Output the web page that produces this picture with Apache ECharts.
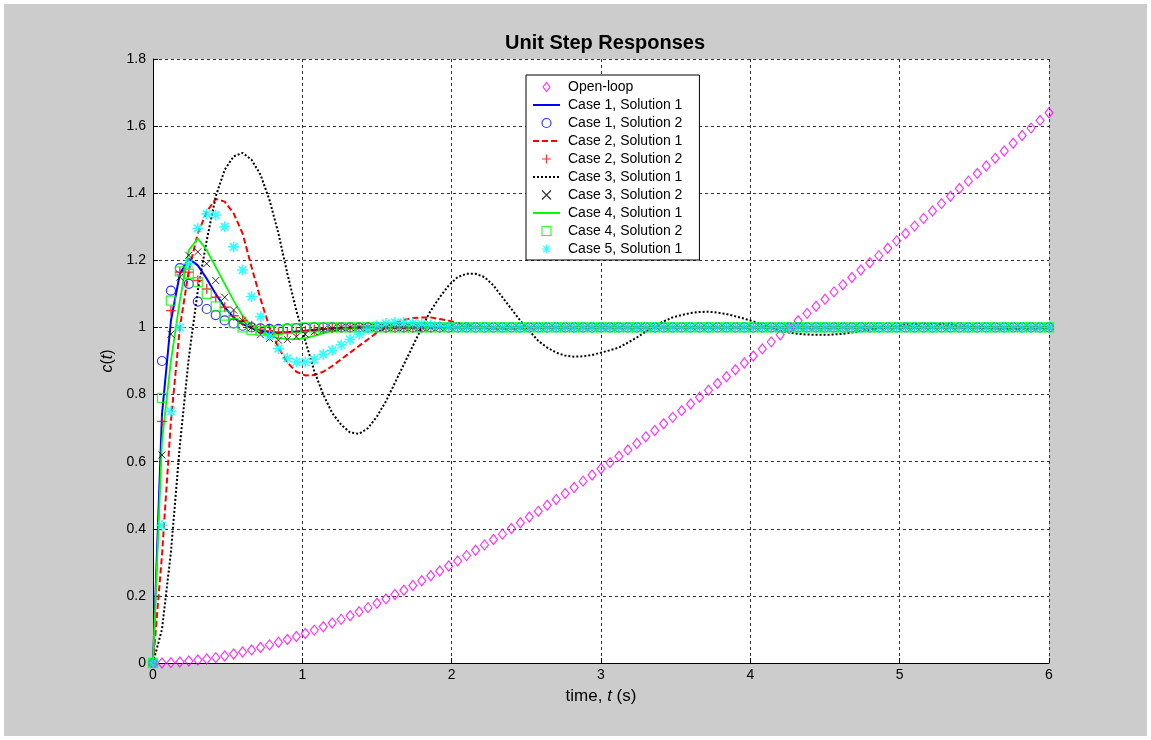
<!DOCTYPE html>
<html><head><meta charset="utf-8">
<script src="https://cdn.jsdelivr.net/npm/echarts@6/dist/echarts.min.js"></script>
<style>html,body{margin:0;padding:0;background:#ffffff;} #bg{position:absolute;left:4px;top:4px;width:1143px;height:732px;background:#cccccc;} #c{position:absolute;left:0;top:0;width:1151px;height:740px;}</style>
</head><body><div id="bg"></div><div id="c"></div>
<script>
const t = [0,0.06,0.12,0.18,0.24,0.3,0.36,0.42,0.48,0.54,
0.6,0.66,0.72,0.78,0.84,0.9,0.96,1.02,1.08,1.14,
1.2,1.26,1.32,1.38,1.44,1.5,1.56,1.62,1.68,1.74,
1.8,1.86,1.92,1.98,2.04,2.1,2.16,2.22,2.28,2.34,
2.4,2.46,2.52,2.58,2.64,2.7,2.76,2.82,2.88,2.94,
3,3.06,3.12,3.18,3.24,3.3,3.36,3.42,3.48,3.54,
3.6,3.66,3.72,3.78,3.84,3.9,3.96,4.02,4.08,4.14,
4.2,4.26,4.32,4.38,4.44,4.5,4.56,4.62,4.68,4.74,
4.8,4.86,4.92,4.98,5.04,5.1,5.16,5.22,5.28,5.34,
5.4,5.46,5.52,5.58,5.64,5.7,5.76,5.82,5.88,5.94,
6];
const openLoop = [0,0,0.001,0.003,0.006,0.009,0.012,0.016,0.021,0.027,
0.033,0.039,0.046,0.054,0.062,0.070,0.079,0.088,0.098,0.108,
0.119,0.130,0.141,0.153,0.165,0.178,0.191,0.204,0.217,0.231,
0.245,0.260,0.274,0.289,0.304,0.320,0.336,0.352,0.368,0.384,
0.401,0.418,0.435,0.452,0.470,0.487,0.505,0.523,0.542,0.560,
0.579,0.597,0.616,0.635,0.654,0.674,0.693,0.713,0.732,0.752,
0.772,0.792,0.813,0.833,0.853,0.874,0.894,0.915,0.936,0.957,
0.978,0.999,1.020,1.042,1.063,1.084,1.106,1.127,1.149,1.171,
1.193,1.214,1.236,1.258,1.280,1.302,1.325,1.347,1.369,1.391,
1.414,1.436,1.459,1.481,1.504,1.526,1.549,1.572,1.594,1.617,
1.640];
const case1Sol1 = [0,0.74,1.02,1.16,1.205,1.185,1.145,1.1,1.06,1.03,
1.01,0.998,0.99,0.986,0.985,0.986,0.988,0.99,0.993,0.995,
0.997,0.998,0.999,1,1,1,1,1,1,1,
1,1,1,1,1,1,1,1,1,1,
1,1,1,1,1,1,1,1,1,1,
1,1,1,1,1,1,1,1,1,1,
1,1,1,1,1,1,1,1,1,1,
1,1,1,1,1,1,1,1,1,1,
1,1,1,1,1,1,1,1,1,1,
1,1,1,1,1,1,1,1,1,1,
1];
const case1Sol2 = [0,0.9,1.11,1.177,1.13,1.077,1.055,1.037,1.021,1.012,
1.005,1,0.997,0.996,0.996,0.997,0.998,0.999,1,1,
1,1,1,1,1,1,1,1,1,1,
1,1,1,1,1,1,1,1,1,1,
1,1,1,1,1,1,1,1,1,1,
1,1,1,1,1,1,1,1,1,1,
1,1,1,1,1,1,1,1,1,1,
1,1,1,1,1,1,1,1,1,1,
1,1,1,1,1,1,1,1,1,1,
1,1,1,1,1,1,1,1,1,1,
1];
const case2Sol1 = [0,0.32,0.72,1.0,1.17,1.28,1.345,1.383,1.375,1.34,
1.28,1.18,1.085,1.0,0.94,0.895,0.868,0.857,0.858,0.868,
0.885,0.905,0.925,0.945,0.965,0.985,1.0,1.013,1.022,1.028,
1.03,1.03,1.025,1.02,1.013,1.007,1.002,0.998,0.996,0.995,
0.995,0.996,0.997,0.998,0.999,1,1,1,1,1,
1,1,1,1,1,1,1,1,1,1,
1,1,1,1,1,1,1,1,1,1,
1,1,1,1,1,1,1,1,1,1,
1,1,1,1,1,1,1,1,1,1,
1,1,1,1,1,1,1,1,1,1,
1];
const case2Sol2 = [0,0.72,1.05,1.165,1.165,1.14,1.115,1.09,1.06,1.035,
1.02,1.005,0.995,0.99,0.985,0.985,0.987,0.99,0.993,0.996,
0.998,1,1,1,1,1,1,1,1,1,
1,1,1,1,1,1,1,1,1,1,
1,1,1,1,1,1,1,1,1,1,
1,1,1,1,1,1,1,1,1,1,
1,1,1,1,1,1,1,1,1,1,
1,1,1,1,1,1,1,1,1,1,
1,1,1,1,1,1,1,1,1,1,
1,1,1,1,1,1,1,1,1,1,
1];
const case3Sol1 = [0,0.10,0.33,0.65,0.91,1.11,1.26,1.39,1.47,1.51,
1.52,1.50,1.455,1.38,1.28,1.16,1.05,0.96,0.87,0.80,
0.745,0.71,0.687,0.683,0.70,0.735,0.78,0.835,0.89,0.945,
1.0,1.05,1.09,1.125,1.15,1.16,1.16,1.15,1.125,1.09,
1.055,1.02,0.99,0.96,0.94,0.925,0.916,0.913,0.914,0.918,
0.925,0.932,0.94,0.955,0.97,0.988,1.005,1.018,1.03,1.037,
1.043,1.046,1.047,1.044,1.04,1.033,1.026,1.018,1.008,0.998,
0.99,0.985,0.981,0.979,0.978,0.978,0.979,0.981,0.985,0.989,
0.994,0.998,1.002,1.005,1.008,1.01,1.011,1.011,1.01,1.008,
1.006,1.003,1.0,0.998,0.996,0.995,0.995,0.995,0.996,0.997,
0.998];
const case3Sol2 = [0,0.62,0.98,1.15,1.215,1.225,1.19,1.14,1.09,1.052,
1.02,1.0,0.978,0.967,0.962,0.964,0.972,0.98,0.987,0.993,
0.997,1,1,1,1,1,1,1,1,1,
1,1,1,1,1,1,1,1,1,1,
1,1,1,1,1,1,1,1,1,1,
1,1,1,1,1,1,1,1,1,1,
1,1,1,1,1,1,1,1,1,1,
1,1,1,1,1,1,1,1,1,1,
1,1,1,1,1,1,1,1,1,1,
1,1,1,1,1,1,1,1,1,1,
1];
const case4Sol1 = [0,0.66,0.9,1.08,1.23,1.265,1.23,1.18,1.13,1.08,
1.035,1.005,0.985,0.975,0.968,0.965,0.965,0.968,0.975,0.983,
0.99,0.995,0.998,1,1,1,1,1,1,1,
1,1,1,1,1,1,1,1,1,1,
1,1,1,1,1,1,1,1,1,1,
1,1,1,1,1,1,1,1,1,1,
1,1,1,1,1,1,1,1,1,1,
1,1,1,1,1,1,1,1,1,1,
1,1,1,1,1,1,1,1,1,1,
1,1,1,1,1,1,1,1,1,1,
1];
const case4Sol2 = [0,0.79,1.08,1.167,1.16,1.135,1.1,1.063,1.035,1.013,
1.0,0.993,0.99,0.99,0.992,0.995,0.997,1,1,1,
1,1,1,1,1,1,1,1,1,1,
1,1,1,1,1,1,1,1,1,1,
1,1,1,1,1,1,1,1,1,1,
1,1,1,1,1,1,1,1,1,1,
1,1,1,1,1,1,1,1,1,1,
1,1,1,1,1,1,1,1,1,1,
1,1,1,1,1,1,1,1,1,1,
1,1,1,1,1,1,1,1,1,1,
1];
const case5Sol1 = [0,0.41,0.75,1.0,1.19,1.295,1.338,1.335,1.3,1.24,
1.171,1.092,1.032,0.975,0.937,0.908,0.897,0.897,0.905,0.92,
0.932,0.948,0.964,0.98,0.995,1.005,1.012,1.015,1.015,1.013,
1.01,1.007,1.004,1.002,1,1,1,1,1,1,
1,1,1,1,1,1,1,1,1,1,
1,1,1,1,1,1,1,1,1,1,
1,1,1,1,1,1,1,1,1,1,
1,1,1,1,1,1,1,1,1,1,
1,1,1,1,1,1,1,1,1,1,
1,1,1,1,1,1,1,1,1,1,
1];
const seriesNames = ['Open-loop','Case 1, Solution 1','Case 1, Solution 2','Case 2, Solution 1','Case 2, Solution 2',
  'Case 3, Solution 1','Case 3, Solution 2','Case 4, Solution 1','Case 4, Solution 2','Case 5, Solution 1'];
const xTicks = [0,1,2,3,4,5,6];
const yTicks = [0,0.2,0.4,0.6,0.8,1,1.2,1.4,1.6,1.8];

const FONT = '"Liberation Sans", Arial, Helvetica, sans-serif';
const pairs = v => t.map((x, i) => [x, v[i]]);
const SYM = {
  diamond: 'path://M5,0L10,6.5L5,13L0,6.5Z',
  plus: 'path://M5,0L5,10M0,5L10,5',
  cross: 'path://M0,0L10,10M10,0L0,10',
  square: 'path://M0,0L10,0L10,10L0,10Z',
  star: 'path://M5,0L5,10M0,5L10,5M1.5,1.5L8.5,8.5M8.5,1.5L1.5,8.5'
};
function markerSeries(name, vals, symbol, size, color, bw) {
  return { name, type: 'scatter', data: pairs(vals), symbol, symbolSize: size, clip: false,
    itemStyle: { color: 'rgba(0,0,0,0)', borderColor: color, borderWidth: bw || 1.2 }, z: 3 };
}
function lineSeries(name, vals, color, width, type) {
  return { name, type: 'line', data: pairs(vals), symbol: 'none', showSymbol: false, clip: false,
    color: color, lineStyle: { color, width, type }, z: 3 };
}
const series = [
  markerSeries(seriesNames[0], openLoop, SYM.diamond, [8, 10], '#ff00ff', 1.2),
  lineSeries(seriesNames[1], case1Sol1, '#0000ff', 2, 'solid'),
  markerSeries(seriesNames[2], case1Sol2, 'circle', 9, '#0000ff', 1.2),
  lineSeries(seriesNames[3], case2Sol1, '#ff0000', 2, [6, 3]),
  markerSeries(seriesNames[4], case2Sol2, SYM.plus, 10, '#ff0000', 1.4),
  lineSeries(seriesNames[5], case3Sol1, '#000000', 2, [2, 2]),
  markerSeries(seriesNames[6], case3Sol2, SYM.cross, 7, '#000000', 1),
  lineSeries(seriesNames[7], case4Sol1, '#00ff00', 1.8, 'solid'),
  markerSeries(seriesNames[8], case4Sol2, SYM.square, 9, '#00ff00', 1.3),
  markerSeries(seriesNames[9], case5Sol1, SYM.star, 11, '#00ffff', 1.6)
];
const legendData = series.map(s => s.type === 'line'
  ? { name: s.name, itemStyle: { opacity: 0 } }
  : { name: s.name, itemStyle: { color: 'rgba(0,0,0,0)', borderColor: s.itemStyle.borderColor, borderWidth: 1.2 } });

const chart = echarts.init(document.getElementById('c'), null, { renderer: 'canvas' });
chart.setOption({
  animation: false,
  backgroundColor: 'rgba(0,0,0,0)',
  title: { text: 'Unit Step Responses', left: 600, top: 28, textAlign: 'center',
    textStyle: { fontFamily: FONT, fontSize: 20, fontWeight: 'bold', color: '#000' } },
  legend: {
    data: legendData, orient: 'vertical', left: 526, top: 75,
    itemWidth: 27, itemHeight: 9, itemGap: 4,
    padding: [5, 17, 4, 6],
    backgroundColor: '#ffffff', borderColor: '#000000', borderWidth: 1,
    selectedMode: false,
    textStyle: { fontFamily: FONT, fontSize: 14, lineHeight: 14, color: '#000', padding: [0, 0, 0, 3] }
  },
  grid: { left: 153, top: 59, right: 102, bottom: 77, show: true, backgroundColor: '#ffffff', borderWidth: 0 },
  xAxis: {
    type: 'value', min: xTicks[0], max: xTicks[xTicks.length - 1], interval: 1,
    name: 'time, {i|t} (s)', nameLocation: 'middle', nameGap: 25,
    nameTextStyle: { fontFamily: FONT, fontSize: 17, color: '#000', rich: { i: { fontFamily: FONT, fontSize: 17, fontStyle: 'italic', color: '#000' } } },
    axisLine: { show: true, onZero: false, lineStyle: { color: '#000', width: 1 } },
    axisTick: { show: true, inside: true, length: 5, lineStyle: { color: '#000' } },
    axisLabel: { fontFamily: FONT, fontSize: 14, color: '#000', margin: 5 },
    splitLine: { show: true, lineStyle: { color: '#333', width: 1, type: [3, 3] } }
  },
  yAxis: {
    type: 'value', min: yTicks[0], max: yTicks[yTicks.length - 1], interval: 0.2,
    name: '{i|c}({i|t})', nameLocation: 'middle', nameGap: 22, nameRotate: 90,
    nameTextStyle: { fontFamily: FONT, fontSize: 16, color: '#000', rich: { i: { fontFamily: FONT, fontSize: 16, fontStyle: 'italic', color: '#000' } } },
    axisLine: { show: true, onZero: false, lineStyle: { color: '#000', width: 1 } },
    axisTick: { show: true, inside: true, length: 5, lineStyle: { color: '#000' } },
    axisLabel: { fontFamily: FONT, fontSize: 14, color: '#000', margin: 7 },
    splitLine: { show: true, lineStyle: { color: '#333', width: 1, type: [3, 3] } }
  },
  series: series
});
</script>
</body></html>
